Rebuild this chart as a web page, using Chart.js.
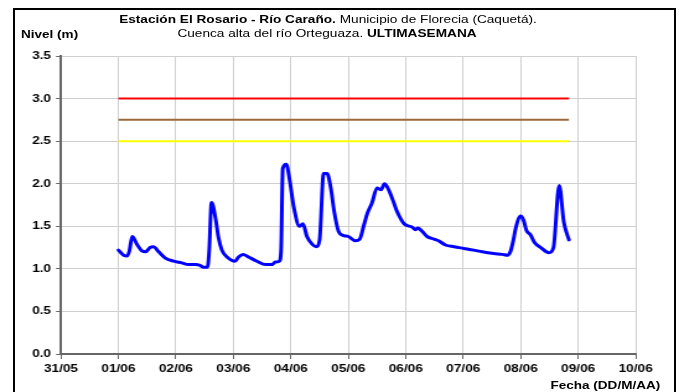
<!DOCTYPE html>
<html>
<head>
<meta charset="utf-8">
<script src="https://cdn.jsdelivr.net/npm/chart.js@4/dist/chart.umd.min.js"></script>
<style>
  html, body { margin:0; padding:0; background:#fff; width:679px; height:392px; overflow:hidden; }
  body { position:relative; font-family:"Liberation Sans", Arial, sans-serif; color:#000; }
  #frame { position:absolute; left:13px; top:8px; width:659px; height:400px; border:2px solid #000; border-bottom:none; box-sizing:content-box; }
  #c { position:absolute; left:0; top:0; width:679px !important; height:392px !important; }
  .t { position:absolute; font-size:11px; white-space:nowrap; line-height:13px; }
  .b { font-weight:bold; }
</style>
</head>
<body>
<div id="frame"></div>
<canvas id="c" width="548" height="392" style="width:679px;height:392px;"></canvas>
<div class="t" style="left:0; width:656px; text-align:center; top:13px; transform:scaleX(1.24); transform-origin:328px 50%;"><span class="b">Estación El Rosario - Río Caraño.</span> Municipio de Florecia (Caquetá).</div>
<div class="t" style="left:0; width:654px; text-align:center; top:27px; transform:scaleX(1.24); transform-origin:327px 50%;">Cuenca alta del río Orteguaza. <span class="b">ULTIMASEMANA</span></div>
<div class="t b" style="left:21px; top:28px; transform:scaleX(1.23); transform-origin:0 50%;">Nivel (m)</div>
<div class="t b" style="right:19px; top:379px; transform:scaleX(1.23); transform-origin:100% 50%;">Fecha (DD/M/AA)</div>
<script>
// Days elapsed since 31/05 00:00
const dayOffsets = [1.00,1.09,1.15,1.19,1.24,1.32,1.41,1.47,1.55,1.61,1.70,1.81,1.96,2.10,2.22,2.34,2.42,2.48,2.55,2.58,2.62,2.69,2.74,2.80,2.89,3.03,3.09,3.17,3.26,3.41,3.56,3.67,3.73,3.80,3.83,3.86,3.92,3.98,4.05,4.15,4.21,4.28,4.37,4.44,4.50,4.57,4.63,4.70,4.75,4.83,4.92,5.00,5.12,5.20,5.27,5.33,5.41,5.50,5.57,5.63,5.70,5.79,5.85,5.97,6.11,6.17,6.21,6.27,6.37,6.49,6.57,6.69,6.84,7.01,7.18,7.33,7.53,7.68,7.77,7.82,7.87,7.91,8.00,8.05,8.10,8.17,8.24,8.35,8.49,8.57,8.67,8.75,8.84];
const nivel = [1.22,1.16,1.15,1.21,1.38,1.29,1.21,1.20,1.25,1.26,1.20,1.13,1.09,1.07,1.05,1.05,1.04,1.02,1.02,1.22,1.78,1.59,1.37,1.22,1.14,1.09,1.14,1.17,1.14,1.09,1.05,1.05,1.08,1.09,1.22,2.18,2.23,2.04,1.73,1.50,1.53,1.38,1.29,1.26,1.34,2.12,2.12,1.93,1.69,1.44,1.39,1.38,1.33,1.35,1.51,1.65,1.77,1.95,1.93,2.00,1.93,1.78,1.67,1.53,1.49,1.46,1.48,1.45,1.38,1.35,1.33,1.28,1.26,1.24,1.22,1.20,1.18,1.17,1.16,1.20,1.33,1.47,1.62,1.57,1.45,1.40,1.31,1.25,1.19,1.25,1.98,1.55,1.34];
const xTickLabels = ["31/05","01/06","02/06","03/06","04/06","05/06","06/06","07/06","08/06","09/06","10/06"];
const yTickValues = [0,0.5,1.0,1.5,2.0,2.5,3.0,3.5];
const umbralNiveles = [3.0, 2.75, 2.5];
const umbralColores = ["#ff0000", "#9c6a3a", "#ffff00"];
const umbralInicio = 1.00;
const umbralFin = 8.84;

const datasets = [];
umbralNiveles.forEach((v, i) => {
  datasets.push({
    data: [{x: umbralInicio, y: v}, {x: umbralFin, y: v}],
    borderColor: umbralColores[i], borderWidth: 2, pointRadius: 0, fill: false
  });
});
datasets.push({
  data: dayOffsets.map((d, i) => ({x: d, y: nivel[i]})),
  borderColor: "#0000ff", borderWidth: 3, pointRadius: 0, fill: false,
  cubicInterpolationMode: "monotone", borderJoinStyle: "round", borderCapStyle: "round"
});

const tickFont = { family: "'Liberation Sans', Arial, sans-serif", size: 11, weight: "bold" };
new Chart(document.getElementById("c"), {
  type: "line",
  data: { datasets },
  options: {
    responsive: false, animation: false, devicePixelRatio: 1,
    layout: { padding: { left: 0, top: 56, right: 35, bottom: 0 } },
    plugins: { legend: { display: false }, tooltip: { enabled: false } },
    scales: {
      x: {
        type: "linear", min: 0, max: 10,
        afterFit: s => { s.height = 38; },
        ticks: { stepSize: 1, autoSkip: false, maxRotation: 0, color: "#000", font: tickFont, padding: 3,
          callback: (v) => xTickLabels[Math.round(v)] },
        grid: { color: "#cfcfcf", lineWidth: 1, tickColor: "#666", tickLength: 5 },
        border: { color: "#666", width: 2 }
      },
      y: {
        min: 0, max: 3.5,
        afterFit: s => { s.width = 49.2; },
        afterBuildTicks: s => { s.ticks = yTickValues.map(v => ({ value: v })); },
        ticks: { color: "#000", font: tickFont, padding: 4, callback: v => Number(v).toFixed(1) },
        grid: { color: "#cfcfcf", lineWidth: 1, tickColor: "#666", tickLength: 4 },
        border: { color: "#666", width: 2 }
      }
    }
  }
});
</script>
</body>
</html>
